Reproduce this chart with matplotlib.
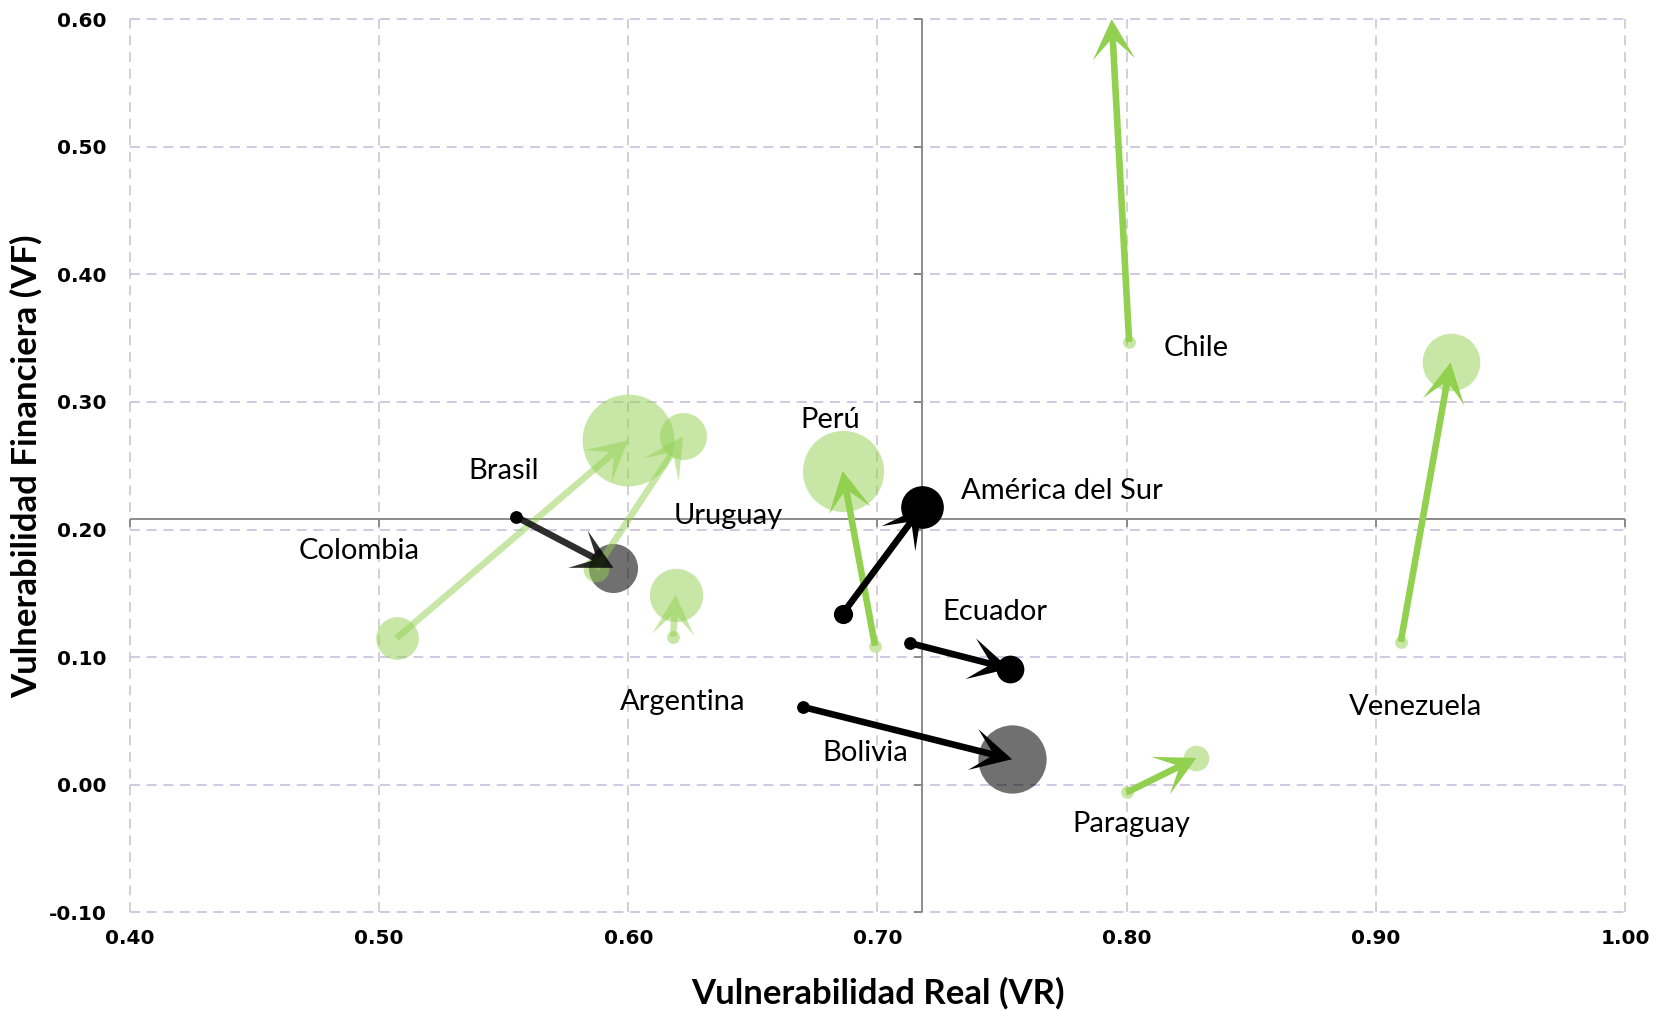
import matplotlib.pyplot as plt
from matplotlib.patches import Polygon
import numpy as np

# datos (inicio -> fin del periodo)
paises = ["Colombia", "Uruguay", "Argentina", "Brasil", "Perú", "América del Sur",
          "Ecuador", "Bolivia", "Paraguay", "Chile", "Venezuela"]
vr_ini = [0.507, 0.587, 0.618, 0.555, 0.699, 0.686, 0.713, 0.670, 0.800, 0.801, 0.910]
vf_ini = [0.115, 0.169, 0.116, 0.210, 0.109, 0.134, 0.111, 0.061, -0.006, 0.347, 0.112]
vr_fin = [0.600, 0.622, 0.619, 0.594, 0.686, 0.718, 0.753, 0.754, 0.828, 0.794, 0.930]
vf_fin = [0.270, 0.273, 0.149, 0.170, 0.246, 0.218, 0.091, 0.020, 0.021, 0.600, 0.331]
# tamano de burbuja (radio relativo)
tam_ini = [20, 12, 6, 6, 6, 9, 6, 6, 6, 6, 6]
tam_fin = [43, 22, 25, 23, 38, 20, 13, 32, 12, 0, 27]
grupo = ["claro", "claro", "claro", "brasil", "verde", "negro",
         "negro", "bolivia", "verde", "verde", "verde"]

# posicion de las etiquetas
lab_x = [0.492, 0.640, 0.622, 0.550, 0.681, 0.774, 0.747, 0.695, 0.802, 0.828, 0.916]
lab_y = [0.183, 0.211, 0.065, 0.246, 0.286, 0.230, 0.135, 0.025, -0.031, 0.342, 0.061]

centro_vr = 0.718
centro_vf = 0.208

verde = "#92D050"
estilo = {
    # flecha, alpha flecha, punto inicial, alpha ini, burbuja final, alpha fin
    "verde":   (verde, 1.0, verde, 0.5, verde, 0.5),
    "claro":   (verde, 0.5, verde, 0.5, verde, 0.5),
    "negro":   ("black", 1.0, "black", 1.0, "black", 1.0),
    "brasil":  ("black", 0.82, "black", 1.0, "black", 0.56),
    "bolivia": ("black", 1.0, "black", 1.0, "black", 0.56),
}

def area(r):
    # radio en px de la imagen -> area en pt^2
    return (2 * r * 1.067 * 0.72) ** 2

fig = plt.figure(figsize=(16.73, 10.10), dpi=100)
ax = fig.add_axes([0.0777, 0.0967, 0.8936, 0.8843])

ax.set_xlim(0.40, 1.00)
ax.set_ylim(-0.10, 0.60)
ax.set_xticks(np.arange(0.40, 1.001, 0.10))
ax.set_yticks(np.arange(-0.10, 0.601, 0.10))
ax.xaxis.set_major_formatter(plt.FormatStrFormatter("%.2f"))
ax.yaxis.set_major_formatter(plt.FormatStrFormatter("%.2f"))
for s in ax.spines.values():
    s.set_visible(False)
ax.tick_params(length=0)
ax.tick_params(axis="y", pad=17, labelsize=14.5)
ax.tick_params(axis="x", pad=12, labelsize=14.5)
for t in ax.get_xticklabels() + ax.get_yticklabels():
    t.set_fontweight("bold")

ax.grid(axis="y", color="#C9C0DD", linestyle=(0, (6, 4)), linewidth=1.2, clip_on=False)
ax.grid(axis="x", color="#CACACA", linestyle=(0, (6, 4)), linewidth=1.2, clip_on=False)
ax.set_axisbelow(True)

# ejes cruzados en el promedio
ax.axvline(centro_vr, color="#8C8C8C", lw=1.4, zorder=1)
ax.axhline(centro_vf, color="#8C8C8C", lw=1.4, zorder=1)
ax.plot(ax.get_xticks(), [centro_vf] * len(ax.get_xticks()), ls="none",
        marker=3, ms=6, mew=1.4, color="#8C8C8C", zorder=1, clip_on=False)
ax.plot([centro_vr] * len(ax.get_yticks()), ax.get_yticks(), ls="none",
        marker=0, ms=6, mew=1.4, color="#8C8C8C", zorder=1, clip_on=False)

inv = ax.transData.inverted()

def flecha(x0, y0, x1, y1, color, alpha, largo=40, ancho=21, muesca=0.55, grosor=3.3):
    # flecha tipo "stealth" (un solo poligono) construida en pixeles
    p0 = ax.transData.transform((x0, y0))
    p1 = ax.transData.transform((x1, y1))
    d = p1 - p0
    u = d / np.hypot(*d)
    n = np.array([-u[1], u[0]])
    base = p1 - u * largo
    cola = p1 - u * largo * muesca
    pts = [p0 + n * grosor, cola + n * grosor, base + n * ancho, p1,
           base - n * ancho, cola - n * grosor, p0 - n * grosor]
    ax.add_patch(Polygon(inv.transform(pts), closed=True, facecolor=color,
                         alpha=alpha, edgecolor="none", zorder=4))

for i, p in enumerate(paises):
    c_fl, a_fl, c_ini, a_ini, c_fin, a_fin = estilo[grupo[i]]
    ax.scatter(vr_fin[i], vf_fin[i], s=area(tam_fin[i]), color=c_fin,
               alpha=a_fin, linewidths=0, zorder=2)
    ax.scatter(vr_ini[i], vf_ini[i], s=area(tam_ini[i]), color=c_ini,
               alpha=a_ini, linewidths=0, zorder=3)
    flecha(vr_ini[i], vf_ini[i], vr_fin[i], vf_fin[i], c_fl, a_fl)
    ax.text(lab_x[i], lab_y[i], p, ha="center", va="center",
            fontsize=21, family="Lato", zorder=5)

ax.set_xlabel("Vulnerabilidad Real (VR)", fontsize=25, fontweight="bold",
              family="Lato", labelpad=21)
ax.set_ylabel("Vulnerabilidad Financiera (VF)", fontsize=25, fontweight="bold",
              family="Lato", labelpad=4)

fig.savefig("out.png", dpi=100)
